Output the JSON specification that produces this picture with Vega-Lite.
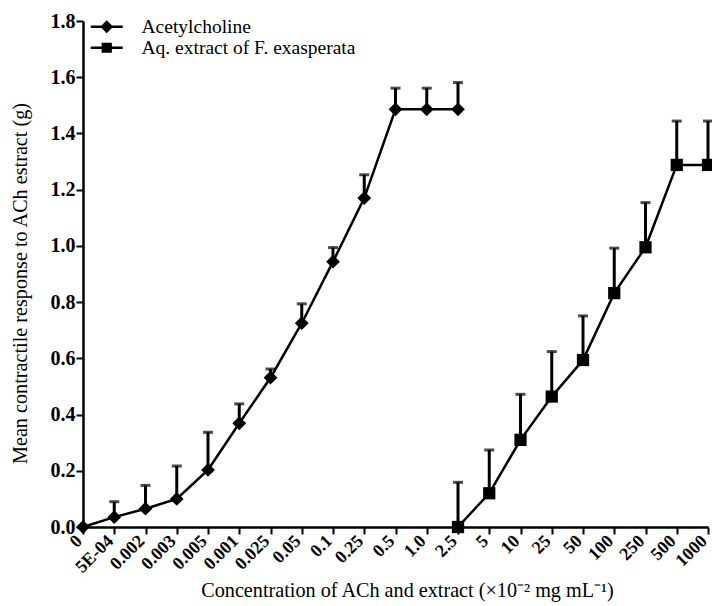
{
  "$schema": "https://vega.github.io/schema/vega-lite/v6.json",
  "autosize": {"type": "none"},
  "padding": {"left": 83, "top": 21, "right": 4, "bottom": 79},
  "width": 625,
  "height": 506,
  "background": "white",
  "config": {
    "view": {"stroke": null},
    "font": "Liberation Serif",
    "axis": {
      "domainColor": "black",
      "domainWidth": 2.5,
      "tickColor": "black",
      "tickWidth": 2,
      "tickSize": 7,
      "labelColor": "black",
      "labelFont": "Liberation Serif",
      "labelFontWeight": "bold",
      "titleColor": "black",
      "titleFont": "Liberation Serif",
      "titleFontSize": 20.2,
      "titleFontWeight": "normal",
      "grid": false
    }
  },
  "data": {
    "values": [
      {"idx": 0, "conc": "0", "series": "Acetylcholine", "mean": 0, "upper": null},
      {"idx": 1, "conc": "5E-04", "series": "Acetylcholine", "mean": 0.035, "upper": 0.09},
      {"idx": 2, "conc": "0.002", "series": "Acetylcholine", "mean": 0.065, "upper": 0.148},
      {"idx": 3, "conc": "0.003", "series": "Acetylcholine", "mean": 0.10, "upper": 0.217},
      {"idx": 4, "conc": "0.005", "series": "Acetylcholine", "mean": 0.203, "upper": 0.337},
      {"idx": 5, "conc": "0.001", "series": "Acetylcholine", "mean": 0.369, "upper": 0.438},
      {"idx": 6, "conc": "0.025", "series": "Acetylcholine", "mean": 0.531, "upper": 0.562},
      {"idx": 7, "conc": "0.05", "series": "Acetylcholine", "mean": 0.725, "upper": 0.794},
      {"idx": 8, "conc": "0.1", "series": "Acetylcholine", "mean": 0.944, "upper": 0.994},
      {"idx": 9, "conc": "0.25", "series": "Acetylcholine", "mean": 1.170, "upper": 1.253},
      {"idx": 10, "conc": "0.5", "series": "Acetylcholine", "mean": 1.486, "upper": 1.561},
      {"idx": 11, "conc": "1.0", "series": "Acetylcholine", "mean": 1.486, "upper": 1.561},
      {"idx": 12, "conc": "2.5", "series": "Acetylcholine", "mean": 1.486, "upper": 1.581},
      {"idx": 12, "conc": "2.5", "series": "Aq. extract of F. exasperata", "mean": 0, "upper": 0.159},
      {"idx": 13, "conc": "5", "series": "Aq. extract of F. exasperata", "mean": 0.12, "upper": 0.274},
      {"idx": 14, "conc": "10", "series": "Aq. extract of F. exasperata", "mean": 0.31, "upper": 0.472},
      {"idx": 15, "conc": "25", "series": "Aq. extract of F. exasperata", "mean": 0.464, "upper": 0.624},
      {"idx": 16, "conc": "50", "series": "Aq. extract of F. exasperata", "mean": 0.594, "upper": 0.751},
      {"idx": 17, "conc": "100", "series": "Aq. extract of F. exasperata", "mean": 0.832, "upper": 0.992},
      {"idx": 18, "conc": "250", "series": "Aq. extract of F. exasperata", "mean": 0.995, "upper": 1.154},
      {"idx": 19, "conc": "500", "series": "Aq. extract of F. exasperata", "mean": 1.288, "upper": 1.444},
      {"idx": 20, "conc": "1000", "series": "Aq. extract of F. exasperata", "mean": 1.288, "upper": 1.444}
    ]
  },
  "encoding": {
    "x": {
      "field": "conc",
      "type": "ordinal",
      "scale": {"type": "point", "padding": 0, "domain": ["0","5E-04","0.002","0.003","0.005","0.001","0.025","0.05","0.1","0.25","0.5","1.0","2.5","5","10","25","50","100","250","500","1000"]},
      "axis": {"labelAngle": -45, "labelAlign": "right", "labelBaseline": "middle", "labelOffset": -4, "labelFontSize": 18, "title": "Concentration of ACh and extract (×10⁻² mg mL⁻¹)", "titlePadding": 4, "titleX": 324, "labelPadding": 4}
    },
    "y": {
      "field": "mean",
      "type": "quantitative",
      "scale": {"domain": [0, 1.8], "nice": false},
      "axis": {"values": [0,0.2,0.4,0.6,0.8,1.0,1.2,1.4,1.6,1.8], "format": ".1f", "labelFontSize": 20, "title": "Mean contractile response to ACh estract (g)", "titlePadding": 20, "titleY": 262, "labelPadding": 1}
    }
  },
  "layer": [
    {
      "transform": [{"filter": "datum.upper != null"}],
      "mark": {"type": "rule", "color": "black", "strokeWidth": 3},
      "encoding": {"y2": {"field": "upper"}}
    },
    {
      "transform": [{"filter": "datum.upper != null"}],
      "mark": {"type": "tick", "color": "black", "thickness": 3, "size": 10, "orient": "horizontal"},
      "encoding": {"y": {"field": "upper", "type": "quantitative"}}
    },
    {
      "mark": {"type": "line", "color": "black", "strokeWidth": 2.5},
      "encoding": {"detail": {"field": "series"}, "order": {"field": "idx"}}
    },
    {
      "transform": [{"filter": "datum.series == 'Acetylcholine'"}],
      "mark": {"type": "point", "filled": true, "color": "black", "opacity": 1, "size": 190, "shape": "diamond"}
    },
    {
      "transform": [{"filter": "datum.series != 'Acetylcholine'"}],
      "mark": {"type": "point", "filled": true, "color": "black", "opacity": 1, "size": 150, "shape": "square"}
    },
    {
      "mark": {"type": "point", "filled": true, "color": "black", "opacity": 0},
      "encoding": {
        "shape": {
          "field": "series", "type": "nominal",
          "scale": {"domain": ["Acetylcholine", "Aq. extract of F. exasperata"], "range": ["M-2,-0.16H2V0.16H-2ZM0,-0.8L0.8,0L0,0.8L-0.8,0Z", "M-2,-0.16H2V0.16H-2ZM-0.64,-0.64H0.64V0.64H-0.64Z"]},
          "legend": {
            "title": null,
            "orient": "none",
            "legendX": 14,
            "legendY": -4,
            "symbolSize": 256,
            "labelFont": "Liberation Serif",
            "labelFontSize": 19.5,
            "labelColor": "black",
            "labelLimit": 0,
            "labelOffset": 25,
            "rowPadding": 0,
            "encode": {
              "symbols": {
                "update": {
                  "fill": {"value": "black"},
                  "stroke": {"value": "black"},
                  "strokeWidth": {"value": 0.5},
                  "opacity": {"value": 1},
                  "fillOpacity": {"value": 1},
                  "strokeOpacity": {"value": 1}
                }
              }
            }
          }
        }
      }
    }
  ]
}
